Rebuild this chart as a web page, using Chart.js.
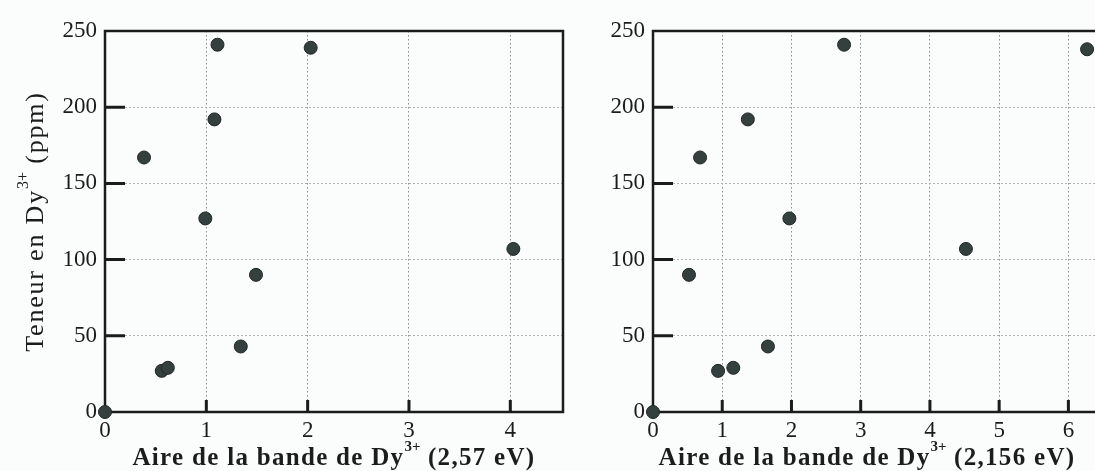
<!DOCTYPE html>
<html>
<head>
<meta charset="utf-8">
<script src="https://cdn.jsdelivr.net/npm/chart.js@4.4.0/dist/chart.umd.min.js"></script>
<style>
  html, body { margin: 0; padding: 0; background: #fbfcfc; overflow: hidden; width: 1095px; height: 471px; }
  .box { position: absolute; top: 0; height: 471px; width: 580px; }
  #gauche { left: 0; }
  #droite { left: 580px; }
</style>
</head>
<body>
<div class="box" id="gauche"><canvas id="cvsGauche"></canvas></div>
<div class="box" id="droite"><canvas id="cvsDroite"></canvas></div>
<script>
// données
const yTicks = [0, 50, 100, 150, 200, 250];
const xTicksGauche = [0, 1, 2, 3, 4];
const xTicksDroite = [0, 1, 2, 3, 4, 5, 6];

// bande à 2,57 eV
const aireGauche = [0, 0.56, 0.62, 1.34, 1.49, 0.99, 0.385, 1.08, 1.11, 2.03, 4.03];
const teneurGauche = [0, 27, 29, 43, 90, 127, 167, 192, 241, 239, 107];

// bande à 2,156 eV
const aireDroite = [0, 0.94, 1.16, 1.66, 0.52, 1.97, 0.68, 1.37, 2.76, 6.27, 4.52];
const teneurDroite = [0, 27, 29, 43, 90, 127, 167, 192, 241, 238, 107];

const SERIF = "'Liberation Serif', 'DejaVu Serif', serif";
const ENCRE = '#1c1c1c';

function pts(xs, ys) {
    return xs.map((x, i) => ({ x: x, y: ys[i] }));
}

// texte avec exposant "3+"
function drawParts(ctx, parts, bold, size, espace) {
    let total = 0;
    const police = p => (bold ? 'bold ' : '') + (p.sup ? Math.round(size * 0.6) : size) + 'px ' + SERIF;
    parts.forEach(p => {
        ctx.font = police(p);
        ctx.letterSpacing = (p.sup ? 0 : espace) + 'px';
        p.w = ctx.measureText(p.t).width;
        total += p.w;
    });
    let x = -total / 2;
    parts.forEach(p => {
        ctx.font = police(p);
        ctx.letterSpacing = (p.sup ? 0 : espace) + 'px';
        ctx.fillText(p.t, x, p.sup ? -size * 0.56 : 0);
        x += p.w;
    });
}

// cadre, graduations internes et titres
const cadre = {
    id: 'cadre',
    beforeDatasetsDraw(chart, args, opts) {
        const ctx = chart.ctx;
        const a = chart.chartArea;
        const sx = chart.scales.x, sy = chart.scales.y;
        ctx.save();
        ctx.strokeStyle = ENCRE;
        ctx.lineWidth = 2.5;
        ctx.strokeRect(a.left, a.top, a.right - a.left, a.bottom - a.top);
        ctx.lineWidth = 3;
        ctx.beginPath();
        yTicks.slice(1, -1).forEach(v => {
            const y = sy.getPixelForValue(v);
            ctx.moveTo(a.left, y);
            ctx.lineTo(a.left + 20, y);
        });
        opts.xTicks.slice(1).forEach(v => {
            const x = sx.getPixelForValue(v);
            ctx.moveTo(x, a.bottom);
            ctx.lineTo(x, a.bottom - 12);
        });
        ctx.stroke();
        ctx.restore();
    },
    afterDraw(chart, args, opts) {
        const ctx = chart.ctx;
        const a = chart.chartArea;
        ctx.save();
        ctx.fillStyle = ENCRE;
        ctx.textBaseline = 'alphabetic';
        ctx.translate((a.left + a.right) / 2 + opts.decalTitre, 465);
        drawParts(ctx, [
            { t: 'Aire de la bande de Dy' },
            { t: '3+', sup: true },
            { t: ' (' + opts.energie + ')' }
        ], true, 25, 1.3);
        ctx.restore();
        if (opts.titreY) {
            ctx.save();
            ctx.fillStyle = ENCRE;
            ctx.translate(43, (a.top + a.bottom) / 2);
            ctx.rotate(-Math.PI / 2);
            drawParts(ctx, [
                { t: 'Teneur en Dy' },
                { t: '3+', sup: true },
                { t: ' (ppm)' }
            ], false, 26, 1.8);
            ctx.restore();
        }
    }
};

function options(xMax, xTicks, largeurY, padDroite, energie, titreY, decalTitre) {
    return {
        responsive: true,
        maintainAspectRatio: false,
        animation: false,
        layout: { padding: { top: 31, right: padDroite, left: 0, bottom: 0 } },
        scales: {
            x: {
                type: 'linear',
                min: 0,
                max: xMax,
                afterBuildTicks: s => { s.ticks = xTicks.map(v => ({ value: v })); },
                afterFit: s => { s.height = 59; },
                grid: { color: '#8c8c8c', lineWidth: 1, drawTicks: false },
                border: { display: false, dash: [1.5, 2.5] },
                ticks: { color: ENCRE, padding: 5, font: { family: SERIF, size: 23 } }
            },
            y: {
                type: 'linear',
                min: 0,
                max: 250,
                afterBuildTicks: s => { s.ticks = yTicks.map(v => ({ value: v })); },
                afterFit: s => { s.width = largeurY; },
                grid: { color: '#b0b0b0', lineWidth: 1, drawTicks: false },
                border: { display: false, dash: [2, 2] },
                ticks: { color: ENCRE, padding: 8, font: { family: SERIF, size: 23 } }
            }
        },
        plugins: {
            legend: { display: false },
            tooltip: { enabled: false },
            cadre: { xTicks: xTicks, energie: energie, titreY: titreY, decalTitre: decalTitre }
        }
    };
}

function dataset(xs, ys) {
    return {
        data: pts(xs, ys),
        pointRadius: 6.5,
        pointBackgroundColor: '#34403e',
        pointBorderColor: '#1f2625',
        pointBorderWidth: 1,
        clip: false
    };
}

// Graphique gauche
const chartGauche = new Chart(document.getElementById('cvsGauche'), {
    type: 'scatter',
    data: { datasets: [dataset(aireGauche, teneurGauche)] },
    options: options(4.52, xTicksGauche, 105, 17, '2,57 eV', true, 0),
    plugins: [cadre]
});

// Graphique droite
const chartDroite = new Chart(document.getElementById('cvsDroite'), {
    type: 'scatter',
    data: { datasets: [dataset(aireDroite, teneurDroite)] },
    options: options(6.5, xTicksDroite, 73, 57, '2,156 eV', false, -11),
    plugins: [cadre]
});
</script>
</body>
</html>
